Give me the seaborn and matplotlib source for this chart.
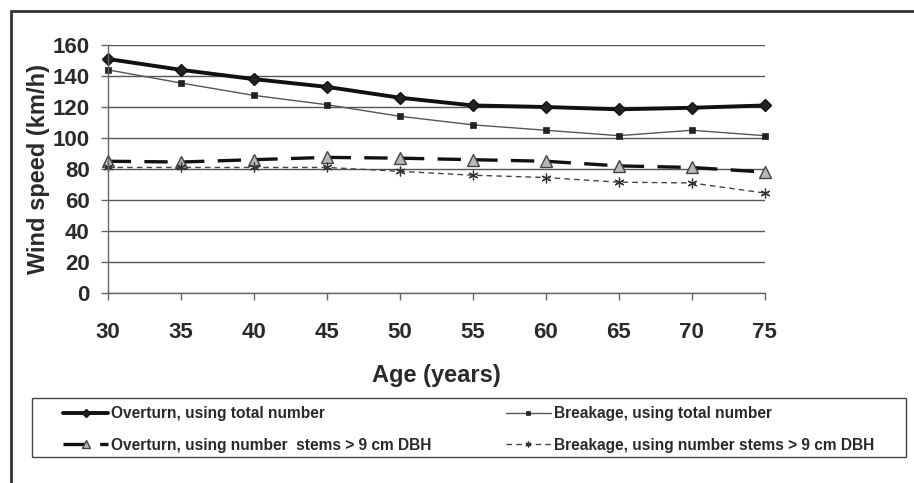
import matplotlib
matplotlib.use("Agg")
import matplotlib.pyplot as plt
import seaborn as sns
from matplotlib.patches import Rectangle

# Critical wind speeds by stand age
ages = [30, 35, 40, 45, 50, 55, 60, 65, 70, 75]
overturn_total = [151, 144, 138, 133, 126, 121, 120, 118.5, 119.5, 121]
breakage_total = [144, 135.5, 127.5, 121.5, 114, 108.5, 105, 101.5, 105, 101.5]
overturn_dbh9 = [85, 84.5, 86, 87.5, 87, 86, 85, 82, 81, 78]
breakage_dbh9 = [81, 81, 81, 81, 78.5, 76, 74.5, 71.5, 71, 64.5]

labels = [
    "Overturn, using total number",
    "Breakage, using total number",
    "Overturn, using number  stems > 9 cm DBH",
    "Breakage, using number stems > 9 cm DBH",
]
y_ticks = [0, 20, 40, 60, 80, 100, 120, 140, 160]

sns.set_theme(style="white")
plt.rcParams["font.family"] = ["Liberation Sans", "DejaVu Sans"]

W, H = 914, 483
fig = plt.figure(figsize=(W / 100, H / 100), dpi=100)
ax = fig.add_axes([107.7 / W, 1 - 293 / H, (764.7 - 107.7) / W, (293 - 45) / H])

styles = [
    dict(y=overturn_total, color="#111111", lw=2.8, ls="-", marker="D", ms=6.5,
         mfc="#222222", mec="#111111", mew=1.0),
    dict(y=breakage_total, color="#555555", lw=1.0, ls="-", marker="s", ms=4,
         mfc="#222222", mec="#222222", mew=0.5),
    dict(y=overturn_dbh9, color="#111111", lw=2.4, ls=(0, (7, 4)), marker="^", ms=9,
         mfc="#b8b8b8", mec="#444444", mew=1.0),
    dict(y=breakage_dbh9, color="#444444", lw=1.0, ls=(0, (4, 3)), marker=(6, 2, 0), ms=7,
         mfc="#333333", mec="#333333", mew=0.9),
]

handles = []
for lab, st in zip(labels, styles):
    sns.lineplot(x=ages, y=st["y"], ax=ax, color=st["color"], linewidth=st["lw"],
                 linestyle=st["ls"], marker=st["marker"], markersize=st["ms"],
                 markerfacecolor=st["mfc"], markeredgecolor=st["mec"],
                 markeredgewidth=st["mew"], label=lab, legend=False)
    line = ax.get_lines()[-1]
    line.set_clip_on(False)
    handles.append(line)

ax.set_xlim(30, 75)
ax.set_ylim(0, 160)
ax.set_xticks(ages)
ax.set_yticks(y_ticks)
ax.grid(axis="y", color="#555555", linewidth=1.0)
ax.set_axisbelow(True)
for side in ["top", "right"]:
    ax.spines[side].set_visible(False)
for side in ["left", "bottom"]:
    ax.spines[side].set_color("#666666")
    ax.spines[side].set_linewidth(1.0)

ax.tick_params(axis="both", direction="out", length=5, width=1.0, color="#666666",
               labelsize=16, labelcolor="#2a2a2a", left=True, bottom=True)
ax.tick_params(axis="x", pad=16)
ax.tick_params(axis="y", pad=8)
for t in ax.get_xticklabels() + ax.get_yticklabels():
    t.set_fontweight("bold")

ax.set_xlabel("Age (years)", fontsize=17, fontweight="bold", color="#2a2a2a", labelpad=15)
ax.set_ylabel("Wind speed (km/h)", fontsize=17, fontweight="bold", color="#2a2a2a", labelpad=1.5)

# legend entries laid out in two columns inside a plain box
order = [handles[0], handles[2], handles[1], handles[3]]
order_labels = [labels[0], labels[2], labels[1], labels[3]]
leg = fig.legend(order, order_labels, ncol=2, mode="expand", loc="center",
                 bbox_to_anchor=(63 / W, 1 - 459 / H, (874 - 63) / W, 59 / H),
                 bbox_transform=fig.transFigure,
                 prop={"family": ["Liberation Sans", "DejaVu Sans"],
                       "weight": "bold", "size": 11.2},
                 handlelength=2.9, handletextpad=0.2, labelspacing=1.05,
                 borderpad=0, borderaxespad=0, frameon=False,
                 markerscale=0.6)
for txt in leg.get_texts():
    txt.set_color("#2a2a2a")

fig.add_artist(Rectangle((32 / W, 1 - 457 / H), (906 - 32) / W, 59 / H,
                         transform=fig.transFigure, fill=False,
                         edgecolor="#444444", linewidth=1.0))

# outer chart frame, open to the right and bottom
fig.add_artist(Rectangle((11 / W, -0.1), 1.2, 1 - 11 / H + 0.1,
                         transform=fig.transFigure, fill=False,
                         edgecolor="#333333", linewidth=2.0))

fig.savefig("out.png", dpi=100)
